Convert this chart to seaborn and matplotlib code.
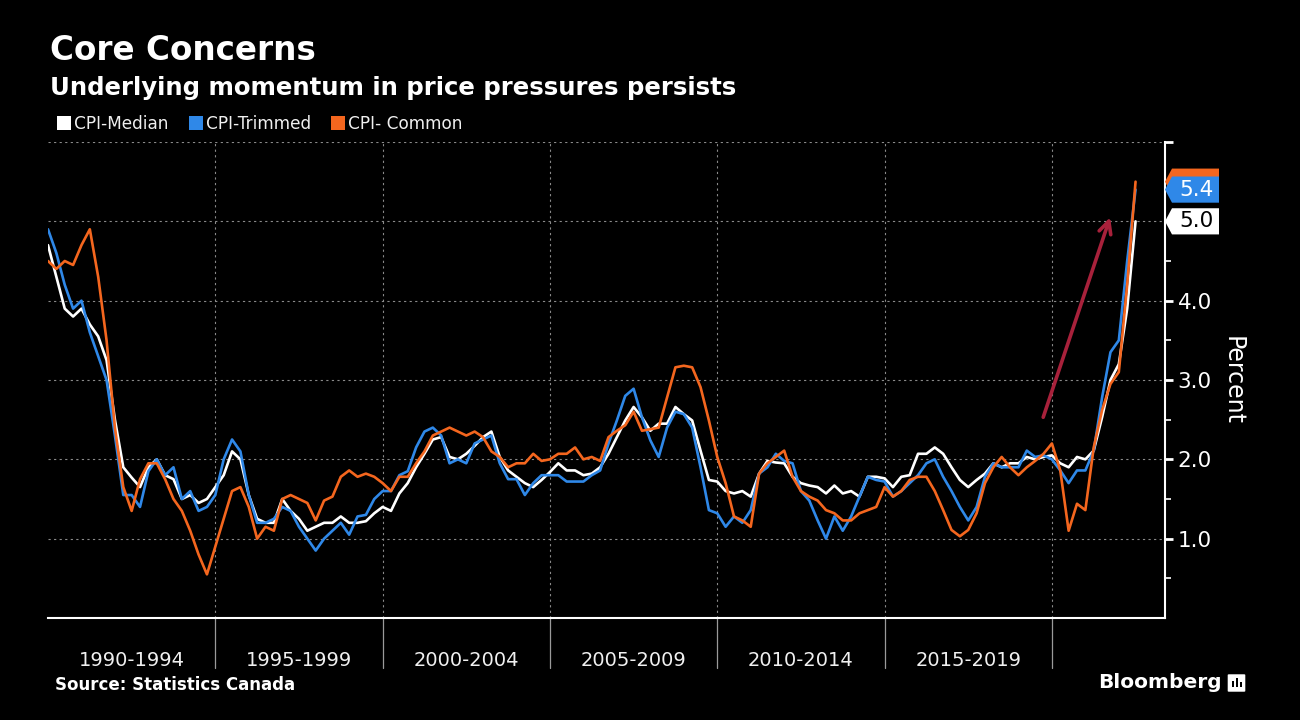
import numpy as np
import pandas as pd
import matplotlib
matplotlib.use("Agg")
import matplotlib.pyplot as plt
import matplotlib.transforms as mtransforms
from matplotlib.lines import Line2D
from matplotlib.patches import Polygon, FancyBboxPatch, Rectangle
import seaborn as sns

# ---------------- data (quarterly readings, Jan 1990 - Jul 2022) ----------------
dates = pd.date_range("1990-01-01", "2022-07-01", freq="QS")

cpi_median = [
    4.7, 4.3, 3.9, 3.8,    3.9, 3.7, 3.55, 3.25,   2.5, 1.9, 1.77, 1.65,
    1.9, 2.0, 1.8, 1.75,   1.5, 1.55, 1.45, 1.5,   1.65, 1.8, 2.1, 2.0,
    1.55, 1.25, 1.2, 1.2,  1.5, 1.35, 1.25, 1.1,   1.15, 1.2, 1.2, 1.28,
    1.2, 1.2, 1.22, 1.32,  1.4, 1.35, 1.57, 1.7,   1.9, 2.07, 2.25, 2.28,
    2.03, 2.0, 2.07, 2.17, 2.28, 2.35, 2.03, 1.86, 1.78, 1.7, 1.65, 1.74,
    1.84, 1.95, 1.86, 1.86, 1.8, 1.82, 1.9, 2.07,  2.28, 2.49, 2.66, 2.53,
    2.36, 2.45, 2.45, 2.66, 2.57, 2.49, 2.11, 1.74, 1.72, 1.6, 1.57, 1.6,
    1.53, 1.82, 1.98, 1.96, 1.95, 1.78, 1.7, 1.67,  1.65, 1.57, 1.67, 1.57,
    1.6, 1.53, 1.78, 1.78, 1.76, 1.65, 1.78, 1.8,   2.07, 2.07, 2.15, 2.07,
    1.9, 1.74, 1.65, 1.74, 1.82, 1.95, 1.9, 1.95,   1.95, 2.03, 2.0, 2.03,
    2.05, 1.95, 1.9, 2.03, 2.0, 2.11, 2.53, 3.0,    3.2, 3.9, 5.0,
]
cpi_trimmed = [
    4.9, 4.6, 4.2, 3.9,    4.0, 3.6, 3.3, 3.0,     2.3, 1.55, 1.55, 1.4,
    1.85, 2.0, 1.8, 1.9,   1.5, 1.6, 1.35, 1.4,    1.55, 2.0, 2.25, 2.1,
    1.55, 1.2, 1.2, 1.25,  1.4, 1.35, 1.15, 1.0,   0.85, 1.0, 1.1, 1.2,
    1.05, 1.28, 1.3, 1.5,  1.6, 1.6, 1.8, 1.85,    2.15, 2.35, 2.4, 2.3,
    1.95, 2.0, 1.95, 2.2,  2.25, 2.3, 1.95, 1.75,  1.75, 1.55, 1.7, 1.8,
    1.8, 1.8, 1.72, 1.72,  1.72, 1.8, 1.86, 2.2,   2.49, 2.8, 2.89, 2.53,
    2.24, 2.03, 2.4, 2.6,  2.57, 2.4, 1.9, 1.36,   1.32, 1.15, 1.28, 1.2,
    1.36, 1.82, 1.9, 2.07, 1.98, 1.95, 1.6, 1.48,  1.23, 1.0, 1.28, 1.1,
    1.28, 1.53, 1.78, 1.74, 1.72, 1.53, 1.6, 1.7,  1.8, 1.95, 2.0, 1.78,
    1.6, 1.4, 1.23, 1.4,   1.78, 1.95, 1.9, 1.9,   1.9, 2.11, 2.03, 2.05,
    2.0, 1.86, 1.7, 1.86,  1.86, 2.11, 2.78, 3.35, 3.5, 4.5, 5.4,
]
cpi_common = [
    4.5, 4.4, 4.5, 4.45,   4.7, 4.9, 4.3, 3.5,     2.4, 1.65, 1.35, 1.75,
    1.95, 1.95, 1.75, 1.5, 1.35, 1.1, 0.8, 0.55,   0.9, 1.25, 1.6, 1.65,
    1.4, 1.0, 1.15, 1.1,   1.5, 1.55, 1.5, 1.45,   1.23, 1.48, 1.53, 1.78,
    1.86, 1.78, 1.82, 1.78, 1.7, 1.6, 1.78, 1.78,  1.95, 2.1, 2.3, 2.35,
    2.4, 2.35, 2.3, 2.35,  2.28, 2.1, 2.03, 1.9,   1.95, 1.95, 2.07, 1.98,
    2.0, 2.07, 2.07, 2.15, 2.0, 2.03, 1.98, 2.28,  2.36, 2.43, 2.6, 2.36,
    2.38, 2.4, 2.78, 3.16, 3.18, 3.16, 2.91, 2.49, 2.03, 1.7, 1.28, 1.23,
    1.15, 1.82, 1.95, 2.03, 2.11, 1.78, 1.6, 1.53, 1.48, 1.36, 1.32, 1.23,
    1.23, 1.32, 1.36, 1.4, 1.65, 1.53, 1.6, 1.74,  1.78, 1.78, 1.6, 1.36,
    1.11, 1.03, 1.11, 1.32, 1.7, 1.9, 2.03, 1.9,   1.8, 1.9, 1.98, 2.07,
    2.2, 1.86, 1.1, 1.44,  1.36, 2.15, 2.62, 2.95, 3.1, 4.2, 5.5,
]

series_names = ["CPI-Median", "CPI-Trimmed", "CPI- Common"]
series_colors = ["#ffffff", "#2f88e8", "#f4661e"]
period_labels = ["1990-1994", "1995-1999", "2000-2004", "2005-2009", "2010-2014", "2015-2019"]
period_starts = [1990, 1995, 2000, 2005, 2010, 2015]
y_ticks = [1.0, 2.0, 3.0, 4.0, 5.0, 6.0]
y_tick_labels = ["1.0", "2.0", "3.0", "4.0", "", ""]
arrow_start = (2019.74, 2.53)
arrow_end = (2021.74, 5.05)

# ---------------- frame ----------------
t = dates.year + (dates.month - 1) / 12.0
df = pd.concat([
    pd.DataFrame({"t": t, "value": vals, "series": name})
    for name, vals in zip(series_names, [cpi_median, cpi_trimmed, cpi_common])
], ignore_index=True)

sns.set_style("dark")
plt.rcParams["font.family"] = ["DejaVu Sans"]
BG = "#000000"
W, H = 1300, 720

fig = plt.figure(figsize=(13, 7.2), dpi=100, facecolor=BG)
ax = fig.add_axes([48 / W, 1 - 618 / H, (1165 - 48) / W, (618 - 142) / H])
ax.set_facecolor(BG)

sns.lineplot(data=df, x="t", y="value", hue="series", hue_order=series_names,
             palette=dict(zip(series_names, series_colors)), linewidth=1.9,
             legend=False, ax=ax, estimator=None, sort=True)

ax.set_xlim(1990.0, 2023.38)
ax.set_ylim(0, 6)
ax.set_xlabel("")
ax.set_ylabel("")
ax.grid(False)

# gridlines
grid_kw = dict(color="#8a8a8a", linestyle=(0, (2, 3)), linewidth=0.8, zorder=0.5)
for yv in y_ticks:
    ax.axhline(yv, **grid_kw)
for xv in period_starts[1:] + [2020]:
    ax.axvline(xv, **grid_kw)
    ax.axvline(xv, ymin=-0.105, ymax=0, color="#9a9a9a", linewidth=0.9, clip_on=False)

# spines
for s in ["left", "top"]:
    ax.spines[s].set_visible(False)
for s in ["right", "bottom"]:
    ax.spines[s].set_color("white")
    ax.spines[s].set_linewidth(1.5)

# y axis on right
ax.yaxis.tick_right()
ax.set_yticks(y_ticks)
ax.set_yticklabels(y_tick_labels)
ax.set_yticks(np.arange(0.5, 6.0, 1.0), minor=True)
ax.tick_params(axis="y", which="major", length=6, width=2, colors="white",
               labelsize=15.5, pad=3, left=False)
ax.tick_params(axis="y", which="minor", length=4, width=1.2, colors="white", left=False)

# x axis: period labels + yearly ticks
centers = [p + 2.5 for p in period_starts]
ax.set_xticks(centers)
ax.set_xticklabels(period_labels)
ax.set_xticks(np.arange(1991, 2024, 1), minor=True)
ax.tick_params(axis="x", which="major", length=0, labelsize=14, labelcolor="#f0f0f0", pad=24)
ax.tick_params(axis="x", which="minor", length=4, width=1.2, color="white")

# value tags on right axis (orange tag sits mostly behind the blue one)
trans = mtransforms.blended_transform_factory(ax.transAxes, ax.transData)
x0, x1, x2 = 1.0, 1.0 + 7 / 1117, (1219 - 48) / 1117
h = 0.165
tag_specs = [
    (cpi_common[-1], series_colors[2], None),
    (cpi_trimmed[-1], series_colors[1], "white"),
    (cpi_median[-1], series_colors[0], "black"),
]
for v, fc, tc in tag_specs:
    poly = Polygon([(x0, v), (x1, v + h), (x2, v + h), (x2, v - h), (x1, v - h)],
                   closed=True, transform=trans, facecolor=fc, edgecolor="none",
                   clip_on=False, zorder=10)
    ax.add_patch(poly)
    if tc is not None:
        ax.text((x1 + x2) / 2 + 0.001, v, f"{v:.1f}", transform=trans, ha="center",
                va="center", fontsize=15.5, color=tc, zorder=11, clip_on=False)

# arrow
ax.annotate("", xy=arrow_end, xytext=arrow_start,
            arrowprops=dict(arrowstyle="->", color="#a8213b", lw=2.6,
                            mutation_scale=22, shrinkA=0, shrinkB=0))

# titles
fig.text(50 / W, 1 - 60 / H, "Core Concerns", fontsize=23.5, weight="bold",
         color="white", va="baseline", ha="left")
fig.text(50 / W, 1 - 95 / H, "Underlying momentum in price pressures persists",
         fontsize=17.6, weight="bold", color="white", va="baseline", ha="left")

# legend
handles = [Line2D([], [], marker="s", linestyle="", markersize=10, color=c,
                  markeredgewidth=0) for c in series_colors]
leg = fig.legend(handles, series_names, loc="center left",
                 bbox_to_anchor=(58 / W, 1 - 124 / H), ncol=3, frameon=False,
                 fontsize=12.2, handlelength=0.7, handletextpad=0.25,
                 columnspacing=1.25, borderpad=0, borderaxespad=0)
for txt in leg.get_texts():
    txt.set_color("#f0f0f0")

# right label
fig.text(1233 / W, 1 - 380 / H, "Percent", rotation=270, fontsize=17,
         color="white", ha="center", va="center")

# source & branding
fig.text(55 / W, 1 - 685 / H, "Source: Statistics Canada", fontsize=12,
         weight="bold", color="white", va="center", ha="left")
fig.text(1098 / W, 1 - 683 / H, "Bloomberg", fontsize=14.5, weight="bold",
         color="white", va="center", ha="left")
icon = FancyBboxPatch((1229 / W, 1 - 691 / H), 15 / W, 16 / H,
                      boxstyle="round,pad=0.001", transform=fig.transFigure,
                      facecolor="white", edgecolor="none")
fig.patches.append(icon)
for bx, bh in [(1232, 6), (1236, 9), (1240, 5)]:
    fig.patches.append(Rectangle((bx / W, 1 - 687 / H), 2 / W, bh / H,
                                 transform=fig.transFigure, facecolor="black",
                                 edgecolor="none"))

fig.savefig("out.png", dpi=100, facecolor=BG)
